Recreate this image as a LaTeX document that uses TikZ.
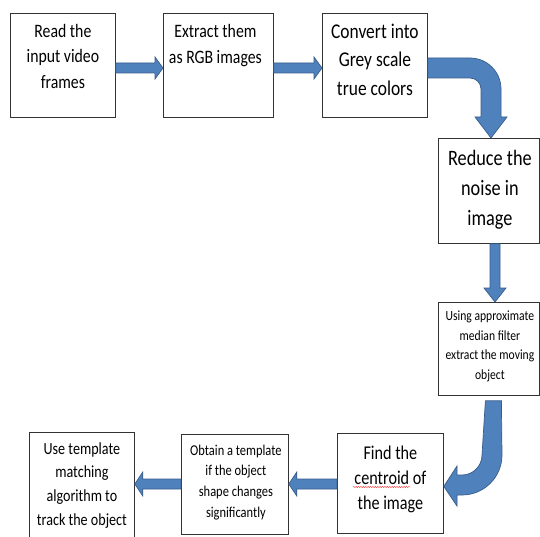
\documentclass[tikz,border=0pt]{standalone}
\usepackage{fontspec}
\setmainfont{Carlito}[FakeStretch=0.83]
\usetikzlibrary{calc,decorations.pathmorphing}
\definecolor{arrfill}{HTML}{4F81BD}
\definecolor{arrline}{HTML}{385D8A}
\tikzset{
  box/.style={draw=black!80, line width=0.8pt, rectangle, inner sep=0pt, anchor=north west},
  barrow/.style={fill=arrfill, draw=arrline, line width=0.7pt, line join=miter},
  txt/.style={anchor=north, inner sep=0pt, align=center, text=black},
}
\newcommand\fl{\rule{0pt}{1em}}
% right-pointing block arrow from #1.east to #2.west at centre y #3
\newcommand\rarr[3]{%
  \draw[barrow] (#1.east|-0,{#3-5}) -- ($(#2.west|-0,{#3-5})+(-8,0)$) -- ($(#2.west|-0,{#3-11})+(-8,0)$)
    -- (#2.west|-0,#3) -- ($(#2.west|-0,{#3+11})+(-8,0)$) -- ($(#2.west|-0,{#3+5})+(-8,0)$)
    -- (#1.east|-0,{#3+5}) -- cycle;}
% left-pointing block arrow from #1.west to #2.east at centre y #3
\newcommand\larr[3]{%
  \draw[barrow] (#1.west|-0,{#3-5}) -- ($(#2.east|-0,{#3-5})+(8,0)$) -- ($(#2.east|-0,{#3-12})+(8,0)$)
    -- (#2.east|-0,#3) -- ($(#2.east|-0,{#3+12})+(8,0)$) -- ($(#2.east|-0,{#3+5})+(8,0)$)
    -- (#1.west|-0,{#3+5}) -- cycle;}
\begin{document}
\begin{tikzpicture}[x=1pt,y=-1pt]
\useasboundingbox (0,0) rectangle (540,537);
\fill[white] (0,0) rectangle (540,537);

% boxes
\node[box, minimum width=105pt, minimum height=104pt] (b1) at (10,13) {};
\node[box, minimum width=110pt, minimum height=104pt] (b2) at (163,13) {};
\node[box, minimum width=105pt, minimum height=104pt] (b3) at (322,13) {};
\node[box, minimum width=101pt, minimum height=105pt] (b4) at (438,138) {};
\node[box, minimum width=101pt, minimum height=93pt] (b5) at (438,302) {};
\node[box, minimum width=106pt, minimum height=100pt] (b6) at (337,433) {};
\node[box, minimum width=107pt, minimum height=100pt] (b7) at (181,434) {};
\node[box, minimum width=105pt, minimum height=110pt] (b8) at (29,432) {};

% texts
\node[txt, font=\fontsize{19}{25.5}\selectfont] (t1) at ([yshift=-5pt]b1.north) {\fl Read the\\input video\\frames};
\node[txt, font=\fontsize{19}{26}\selectfont] (t2) at ([yshift=-5pt,xshift=-3pt]b2.north) {\fl Extract them\\as RGB images};
\node[txt, font=\fontsize{21}{28.5}\selectfont] (t3) at ([yshift=-4pt]b3.north) {\fl Convert into\\Grey scale\\true colors};
\node[txt, font=\fontsize{22}{30}\selectfont] (t4) at ([yshift=-5pt,xshift=1pt]b4.north) {\fl Reduce the\\noise in\\image};
\node[txt, font=\fontsize{14}{19.8}\selectfont] (t5) at ([yshift=-4pt,xshift=1pt]b5.north) {\fl Using approximate\\median filter\\extract the moving\\object};
\node[txt, font=\fontsize{19.5}{25}\selectfont] (t6) at ([yshift=-6.5pt]b6.north) {\fl Find the\\centroid of\\the image};
\node[txt, font=\fontsize{15}{20.7}\selectfont] (t7) at ([yshift=-6pt,xshift=1pt]b7.north) {\fl Obtain a template\\if the object\\shape changes\\significantly};
\node[txt, font=\fontsize{17}{23.7}\selectfont] (t8) at ([yshift=-5pt]b8.north) {\fl Use template\\matching\\algorithm to\\track the object};

% spell-check underline
\draw[red!75, line width=0.4pt, decorate, decoration={snake, amplitude=0.7pt, segment length=2.4pt}] (353,487) -- (410,487);

% straight arrows
\rarr{b1}{b2}{68}
\rarr{b2}{b3}{68}
\larr{b6}{b7}{484}
\larr{b7}{b8}{484}
\draw[barrow] (490,0 |- b4.south) -- (490,288) -- (484,288) -- (495,0 |- b5.north) -- (506,288) -- (500,288) -- (500,0 |- b4.south) -- cycle;

% bent arrow b3 -> b4
\draw[barrow] (b3.east|-0,58) -- (470,58) arc[start angle=90,end angle=0,radius=31pt] -- (501,117) -- (507,117)
  -- (491,0 |- b4.north) -- (475,117) -- (481,117) -- (481,89) arc[start angle=0,end angle=90,radius=11pt]
  -- (b3.east|-0,78) -- cycle;

% bent arrow b5 -> b6
\draw[barrow] ($(b5.south)+(-3.5,5)$) -- ($(b5.south)+(12.5,5)$) -- (502,455) arc[start angle=0,end angle=-90,radius=40pt]
  -- (457,495) -- (457,506) -- ($(b6.east)+(0,3)$) -- (457,466) -- (457,475) -- (462,475)
  arc[start angle=-90,end angle=0,radius=20pt] -- cycle;
\end{tikzpicture}
\end{document}
